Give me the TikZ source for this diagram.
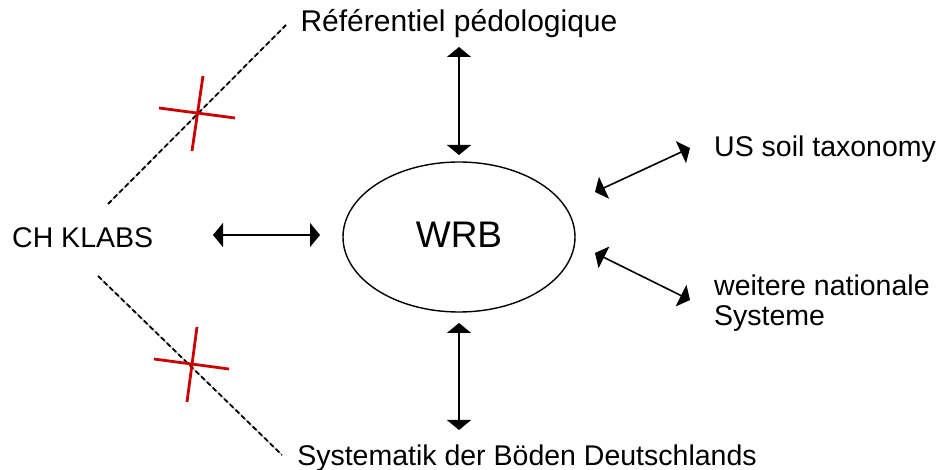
\documentclass[tikz,border=0pt]{standalone}
\usepackage{fontspec}
\setmainfont{Liberation Sans}
\usetikzlibrary{arrows.meta,shapes.geometric}
\begin{document}
\begin{tikzpicture}[x=1pt,y=-1pt,
  lbl/.style={font=\fontsize{28.5}{30}\selectfont, inner sep=0pt},
  link/.style={line width=1.6pt, {Triangle[width=24pt,length=10pt]}-{Triangle[width=24pt,length=10pt]}},
  crossed/.style={draw=gray!60, line width=0.9pt, postaction={draw=black, line width=1.8pt, dash pattern=on 5pt off 3pt}},
  redx/.style={draw=red!80!black, line width=2.8pt}]
\useasboundingbox (0,0) rectangle (938,470);
\fill[white] (0,0) rectangle (938,470);
% main ellipse
\node[ellipse, draw, line width=1.4pt, minimum width=232pt, minimum height=150pt, inner sep=0pt] (wrb) at (459,237) {};
\node[font=\fontsize{37}{40}\selectfont, inner sep=0pt, anchor=base] (wrbtxt) at (459,248) {WRB};
% labels
\node[lbl, anchor=base west] (ch) at (12,248) {CH KLABS};
\node[lbl, anchor=base, font=\fontsize{30}{30}\selectfont] (ref) at (459,32) {Référentiel pédologique};
\node[lbl, anchor=base] (sys) at (527,465) {Systematik der Böden Deutschlands};
\node[lbl, anchor=base west] (us) at (714,157) {US soil taxonomy};
\node[lbl, anchor=west, align=left] (wn) at (714,303) {weitere nationale\\Systeme};
% arrow ends
\coordinate (t1) at (459,47); \coordinate (t2) at (459,155);
\coordinate (b1) at (459,323); \coordinate (b2) at (459,430);
\coordinate (l1) at (213,235); \coordinate (l2) at (320,235);
\coordinate (u1) at (595,192); \coordinate (u2) at (690,148);
\coordinate (w1) at (595,253); \coordinate (w2) at (690,300);
\draw[link] (t1) -- (t2);
\draw[link] (b1) -- (b2);
\draw[link] (l1) -- (l2);
\draw[link] (u1) -- (u2);
\draw[link] (w1) -- (w2);
% dashed rejected links
\coordinate (d1a) at (108,204); \coordinate (d1b) at (286,25);
\coordinate (d2a) at (98,276); \coordinate (d2b) at (282,455);
\path[crossed] (d1a) -- (d1b);
\path[crossed] (d2a) -- (d2b);
% red crosses
\coordinate (x1a) at (159,108); \coordinate (x1b) at (235,118);
\coordinate (x1c) at (203,76); \coordinate (x1d) at (192,151);
\coordinate (x2a) at (154,359); \coordinate (x2b) at (229,369);
\coordinate (x2c) at (197,327); \coordinate (x2d) at (187,402);
\draw[redx] (x1a) -- (x1b);
\draw[redx] (x1c) -- (x1d);
\draw[redx] (x2a) -- (x2b);
\draw[redx] (x2c) -- (x2d);
\end{tikzpicture}
\end{document}
